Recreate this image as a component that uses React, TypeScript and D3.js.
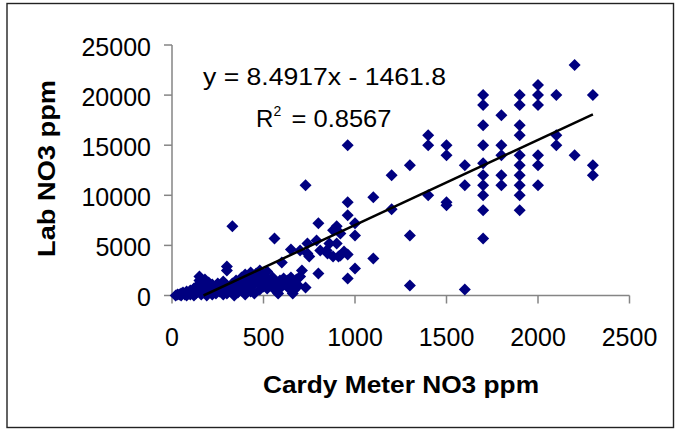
import React from "react";
import * as d3 from "d3";

// Lab NO3 (ppm) against Cardy meter NO3 (ppm)
const lowCluster: [number, number][] = [
  [20, 0], [30, 100], [40, 100], [50, 200], [50, 0], [60, 300], [70, 100],
  [80, 400], [80, 0], [90, 200], [100, 100], [100, 500], [110, 300],
  [120, 0], [120, 700], [130, 200], [140, 1000], [140, 400], [150, 1900],
  [150, 1500], [150, 600], [160, 1200], [160, 100], [170, 300], [170, 800],
  [180, 1600], [180, 500], [190, 0], [190, 1000], [200, 300], [200, 1300],
  [210, 700], [220, 100], [220, 1100], [230, 500], [240, 900], [240, 200],
  [250, 1200], [260, 400], [270, 800], [280, 100], [280, 1400], [290, 600],
  [300, 2900], [300, 2500], [300, 1000], [300, 200], [310, 400], [320, 800],
  [330, 1200], [340, 0], [340, 600], [350, 1500], [360, 300], [370, 900],
  [380, 1800], [380, 500], [390, 1200], [400, 100], [400, 2100], [410, 700],
  [420, 1500], [430, 2300], [430, 400], [440, 1000], [450, 1800], [450, 200],
  [460, 2200], [470, 1300], [480, 2500], [480, 600], [490, 1600], [500, 900],
  [500, 2000], [510, 1200], [520, 2400], [520, 700], [530, 1500], [540, 1000],
  [550, 1800], [560, 600], [570, 1300], [580, 200], [590, 1500], [600, 900],
  [610, 1700], [620, 1100], [630, 1500], [640, 700], [650, 1800], [660, 200],
  [660, 1200], [670, 600], [680, 1600], [690, 1000], [700, 1900],
];

const midRange: [number, number][] = [
  [330, 6900], [560, 5700], [600, 3300], [650, 4600], [700, 4500],
  [710, 2500], [730, 800], [730, 11000], [740, 5200], [740, 4200],
  [750, 3900], [790, 5500], [800, 7200], [800, 2200], [810, 4500],
  [845, 4500], [850, 4200], [860, 5200], [880, 6500], [880, 3900],
  [900, 6900], [900, 5200], [910, 3900], [920, 6200], [920, 4000],
  [940, 4400], [960, 15000], [960, 9300], [960, 8000], [960, 4100],
  [960, 1700], [1000, 7200], [1000, 6000], [1000, 2700],
];

const highRange: [number, number][] = [
  [1100, 9800], [1100, 3700],
  [1200, 12000], [1200, 8600],
  [1300, 13000], [1300, 6000], [1300, 1000],
  [1400, 16000], [1400, 15000], [1400, 10000],
  [1500, 15000], [1500, 14000], [1500, 9300], [1500, 9000],
  [1600, 13000], [1600, 11000], [1600, 600],
  [1700, 20000], [1700, 19000], [1700, 17000], [1700, 15000], [1700, 13200],
  [1700, 12000], [1700, 11000], [1700, 10000], [1700, 8500], [1700, 5700],
  [1800, 18000], [1800, 15000], [1800, 14000], [1800, 12000], [1800, 11000],
  [1900, 20000], [1900, 19000], [1900, 17000], [1900, 16000], [1900, 14000],
  [1900, 13000], [1900, 12000], [1900, 11000], [1900, 10000], [1900, 8500],
  [2000, 21000], [2000, 20000], [2000, 19000], [2000, 14000], [2000, 13000],
  [2000, 11000],
  [2100, 20000], [2100, 16000], [2100, 15000],
  [2200, 23000], [2200, 14000],
  [2300, 20000], [2300, 13000], [2300, 12000],
];

const xTicks = [0, 500, 1000, 1500, 2000, 2500];
const yTicks = [0, 5000, 10000, 15000, 20000, 25000];

const slope = 8.4917;
const intercept = -1461.8;
const rSquared = "0.8567";

const font = "'Liberation Sans', Arial, sans-serif";

export default function App() {
  const points = [...lowCluster, ...midRange, ...highRange];

  const x = d3.scaleLinear().domain([0, 2500]).range([172, 629.5]);
  const y = d3.scaleLinear().domain([0, 25000]).range([295.5, 45]);

  const diamond = d3.symbol(d3.symbolSquare, 72)() as string;

  // trendline, clipped at y = 0 like the original
  const x0 = -intercept / slope;
  const x1 = d3.max(points, (d) => d[0]) as number;
  const trend = d3.line<number>()
    .x((v) => x(v))
    .y((v) => y(slope * v + intercept))([x0, x1]) as string;

  return (
    <svg
      width={675}
      height={429}
      style={{ position: "absolute", left: 0, top: 0, background: "#fff" }}
      fontFamily={font}
    >
      <rect x={7} y={3.5} width={666.5} height={424} fill="#fff" stroke="#222" strokeWidth={1.4} />

      {/* axes */}
      <line x1={x(0)} x2={x(0)} y1={y(25000)} y2={y(0)} stroke="#858585" strokeWidth={1.5} />
      <line x1={x(0)} x2={x(2500)} y1={y(0)} y2={y(0)} stroke="#858585" strokeWidth={1.5} />
      {yTicks.map((t) => (
        <g key={"y" + t}>
          <line x1={x(0) - 8} x2={x(0)} y1={y(t)} y2={y(t)} stroke="#858585" strokeWidth={1.5} />
          <text x={151} y={y(t) + 10.5} textAnchor="end" fontSize={25} fill="#000">
            {t}
          </text>
        </g>
      ))}
      {xTicks.map((t) => (
        <g key={"x" + t}>
          <line x1={x(t)} x2={x(t)} y1={y(0)} y2={y(0) + 8} stroke="#858585" strokeWidth={1.5} />
          <text x={x(t)} y={346} textAnchor="middle" fontSize={25} fill="#000">
            {t}
          </text>
        </g>
      ))}

      {/* markers */}
      {points.map((d, i) => (
        <path
          key={i}
          d={diamond}
          transform={`translate(${x(d[0])},${y(d[1])}) rotate(45)`}
          fill="#000080"
        />
      ))}

      <path d={trend} fill="none" stroke="#000" strokeWidth={2.5} />

      {/* equation */}
      <text x={203} y={85} fontSize={24} textLength={243} lengthAdjust="spacingAndGlyphs">
        {`y = ${slope}x - ${-intercept}`}
      </text>
      <text x={256} y={127} fontSize={24}>R</text>
      <text x={273.5} y={116} fontSize={14}>2</text>
      <text x={291.5} y={127} fontSize={24} textLength={100} lengthAdjust="spacingAndGlyphs">
        {`= ${rSquared}`}
      </text>

      {/* axis titles */}
      <text
        x={401}
        y={393}
        textAnchor="middle"
        fontSize={24}
        fontWeight="bold"
        textLength={276}
        lengthAdjust="spacingAndGlyphs"
      >
        Cardy Meter NO3 ppm
      </text>
      <text
        transform="translate(55,168.5) rotate(-90)"
        textAnchor="middle"
        fontSize={24}
        fontWeight="bold"
        textLength={177}
        lengthAdjust="spacingAndGlyphs"
      >
        Lab NO3 ppm
      </text>
    </svg>
  );
}
